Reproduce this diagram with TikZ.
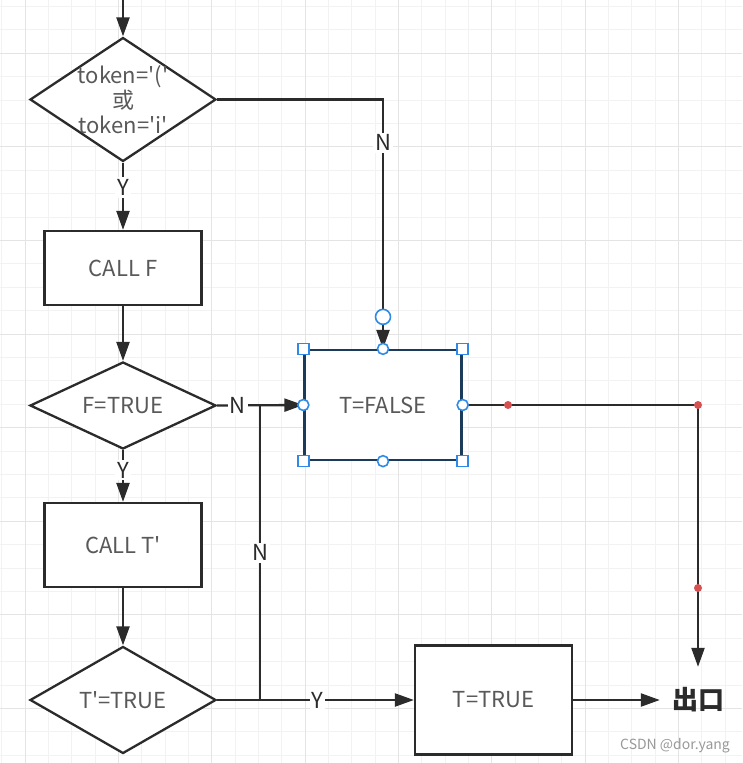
\documentclass[tikz,border=0pt]{standalone}
\usepackage{fontspec}
\newfontfamily\mainf{Noto Sans CJK SC}
\usetikzlibrary{shapes.geometric,arrows.meta}
\definecolor{linec}{HTML}{2B2B2B}
\definecolor{txtc}{HTML}{595959}
\definecolor{minorg}{HTML}{F2F2F2}
\definecolor{majorg}{HTML}{E4E4E4}
\definecolor{hblue}{HTML}{2E8AE6}
\definecolor{navy}{HTML}{1C3B5A}
\definecolor{reddot}{HTML}{D65252}
\begin{document}
\begin{tikzpicture}[x=1pt,y=-1pt,
  every node/.style={font=\mainf\fontsize{22}{25}\selectfont},
  box/.style={rectangle, draw=linec, line width=2.3pt, fill=white, text=txtc, inner sep=0pt},
  dia/.style={diamond, draw=linec, line width=2.3pt, fill=white, inner sep=0pt},
  ntext/.style={text=txtc, align=center, inner sep=0pt},
  conn/.style={draw=linec, line width=2.3pt, -{Triangle[length=19pt,width=13pt]}},
  plain/.style={draw=linec, line width=2.3pt},
  lbl/.style={fill=white, text=linec, inner sep=2pt},
  hsq/.style={draw=hblue, fill=white, line width=1.6pt},
  minorline/.style={draw=minorg, line width=1pt},
  majorline/.style={draw=majorg, line width=1pt}]
\useasboundingbox (0,0) rectangle (742,763);
\fill[white] (0,0) rectangle (742,763);
% grid
\foreach \k in {0,...,31} {\pgfmathsetmacro\xx{1.67+23.333*\k}\draw[minorline] (\xx,0) -- (\xx,763);}
\foreach \k in {0,...,32} {\pgfmathsetmacro\yy{6.4+23.4*\k}\draw[minorline] (0,\yy) -- (742,\yy);}
\foreach \k in {1,5,...,29} {\pgfmathsetmacro\xx{1.67+23.333*\k}\draw[majorline] (\xx,0) -- (\xx,763);}
\foreach \k in {2,6,...,30} {\pgfmathsetmacro\yy{6.4+23.4*\k}\draw[majorline] (0,\yy) -- (742,\yy);}

% nodes
\node[dia, minimum width=186pt, minimum height=124pt,
  label={[ntext]center:token='('\\或\\token='i'}] (d1) at (123,99.5) {};
\node[box, minimum width=157pt, minimum height=74pt] (callF) at (123,268) {CALL F};
\node[dia, minimum width=186pt, minimum height=87pt,
  label={[ntext]center:F=TRUE}] (d2) at (123,405.5) {};
\node[box, minimum width=157pt, minimum height=84pt] (callT) at (123,545) {CALL T'};
\node[dia, minimum width=186pt, minimum height=107pt,
  label={[ntext]center:T'=TRUE}] (d3) at (123,700) {};
\node[box, draw=navy, minimum width=157pt, minimum height=110pt] (tfalse) at (383,405) {T=FALSE};
\node[box, minimum width=157pt, minimum height=109pt] (ttrue) at (493.5,700) {T=TRUE};
\node[text=linec, inner sep=0pt, minimum width=76pt, minimum height=66pt,
  font=\mainf\bfseries\fontsize{26}{28}\selectfont] (exit) at (698,700) {出口};
\node[text=black!40, inner sep=0pt, font=\mainf\fontsize{14}{16}\selectfont] (wm) at (675,746) {CSDN @dor.yang};

% connectors
\coordinate (top) at (123,-3);
\coordinate (c1) at (383,99.5);
\coordinate (j1) at (260,700);
\coordinate (j2) at (260,405.5);
\draw[conn] (top) -- (d1.north);
\draw[conn] (d1.east) -- (c1) -- node[lbl,pos=0.174]{N} (tfalse.north);
\draw[conn] (d1.south) -- node[lbl,pos=0.37]{Y} (callF.north);
\draw[conn] (callF.south) -- (d2.north);
\draw[conn] (d2.east) -- node[lbl,pos=0.24]{N} (tfalse.west);
\draw[conn] (d2.south) -- node[lbl,pos=0.39]{Y} (callT.north);
\draw[conn] (callT.south) -- (d3.north);
\draw[plain] (d3.east) -- (j1) -- node[lbl,pos=0.5]{N} (j2);
\draw[conn] (d3.east) -- node[lbl,pos=0.51]{Y} (ttrue.west);
\draw[conn] (ttrue.east) -- (exit.west);
\draw[conn] (tfalse.east) -| (exit.north);

% selection handles
\foreach \a in {north west, north east, south west, south east}
  \draw[hsq] (tfalse.\a) ++(-5.5,-5.5) rectangle ++(11,11);
\foreach \a in {north, south, west, east}
  \draw[hsq] (tfalse.\a) circle[radius=5.5];
\draw[hsq] (tfalse.north) ++(0,-32) circle[radius=7.5];

% waypoint dots
\fill[reddot] (508,405) circle[radius=4];
\fill[reddot] (698,405) circle[radius=4];
\fill[reddot] (698,588) circle[radius=4];
\end{tikzpicture}
\end{document}
